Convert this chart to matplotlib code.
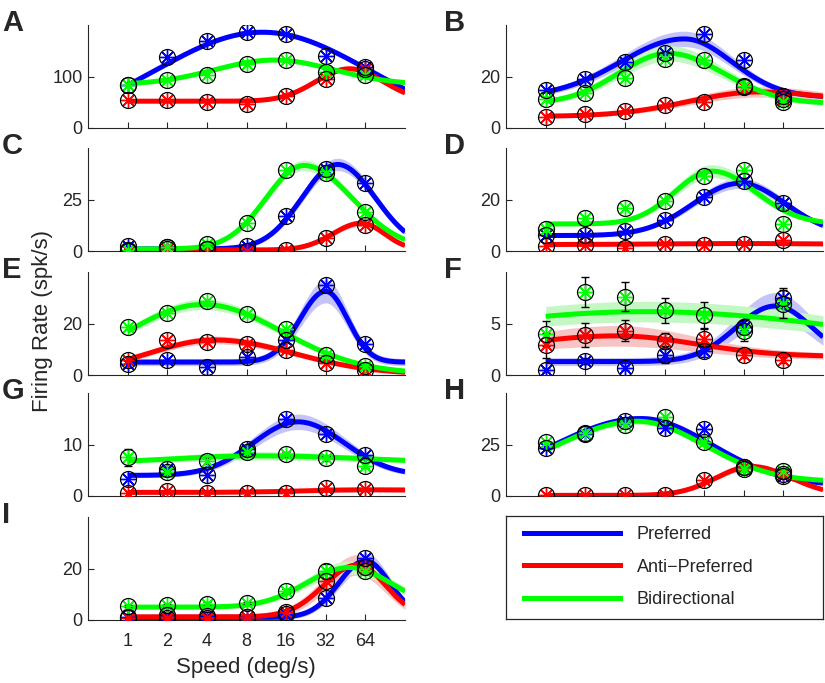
import numpy as np
import matplotlib
matplotlib.use('Agg')
import matplotlib.pyplot as plt
from matplotlib.lines import Line2D

plt.rcParams['font.family'] = ['Liberation Sans', 'DejaVu Sans']

# ---------------- data ----------------
speeds = [1, 2, 4, 8, 16, 32, 64]
speed_labels = ['1', '2', '4', '8', '16', '32', '64']
panel_letters = ['A', 'B', 'C', 'D', 'E', 'F', 'G', 'H', 'I']
series_names = ['Preferred', 'Anti\u2212Preferred', 'Bidirectional']
y_tops = [200, 40, 50, 40, 40, 10, 20, 50, 40]
y_ticks = [100, 20, 25, 20, 20, 5, 10, 25, 20]

# measured firing rates (spk/s) per panel A..I at speeds 1..64
pref_rates = [
    [83, 138, 169, 186, 183, 139, 119],
    [14.6, 19.1, 25.5, 29.0, 36.5, 26.6, 12.4],
    [2.2, 1.9, 1.1, 2.4, 17.0, 39.6, 33.0],
    [6.1, 6.3, 7.6, 12.1, 20.9, 27.0, 18.7],
    [4.2, 5.7, 3.2, 7.0, 13.4, 35.0, 12.1],
    [0.48, 1.37, 0.7, 1.97, 2.29, 4.7, 7.5],
    [3.35, 5.3, 4.0, 9.2, 15.0, 12.1, 7.9],
    [23.4, 30.3, 36.3, 33.1, 32.6, 14.2, 9.7],
    [1.0, 1.9, 1.7, 1.3, 2.5, 8.7, 24.0],
]
anti_rates = [
    [54, 54, 51, 46, 63, 95, 115],
    [4.3, 5.5, 6.6, 9.0, 10.1, 15.9, 11.4],
    [0.0, 1.0, 0.8, 0.0, 0.6, 6.4, 12.6],
    [1.9, 2.5, 1.2, 2.8, 2.2, 2.8, 4.1],
    [5.7, 13.6, 12.7, 12.1, 9.8, 4.5, 1.9],
    [2.87, 3.9, 4.3, 3.28, 3.5, 1.97, 1.43],
    [0.65, 1.0, 0.65, 0.5, 0.65, 1.6, 1.3],
    [0.5, 0.5, 0.3, 0.3, 7.7, 14.2, 10.5],
    [0.6, 0.6, 0.6, 1.3, 3.2, 15.0, 20.4],
]
bidi_rates = [
    [83, 94, 103, 125, 133, 109, 103],
    [11.4, 13.5, 19.5, 26.8, 26.6, 16.3, 10.1],
    [0.3, 1.9, 3.5, 13.4, 39.3, 37.7, 19.1],
    [8.6, 12.8, 16.6, 19.6, 29.3, 31.5, 10.6],
    [18.5, 24.2, 28.9, 23.6, 17.8, 7.6, 3.4],
    [4.0, 8.06, 7.6, 6.27, 5.8, 4.3, 6.9],
    [7.5, 4.6, 6.8, 8.5, 8.1, 7.3, 5.9],
    [26.3, 30.6, 34.7, 38.2, 26.1, 12.9, 12.1],
    [5.4, 5.7, 6.4, 6.6, 11.1, 18.9, 19.1],
]

# visible error bars (panel F; G/I bidirectional at a few speeds)
pref_err = {5: [0.2, 0.3, 0.2, 0.8, 0.5, 0.6, 0.9]}
anti_err = {5: [1.2, 1.15, 1.0, 0.8, 0.95, 0.3, 0.3]}
bidi_err = {5: [1.2, 1.5, 1.4, 1.2, 1.25, 1.0, 1.4],
            6: [1.6, 0.5, 0.5, 0.5, 0.5, 0.5, 0.5],
            8: [0.5, 0.5, 0.5, 0.5, 0.8, 2.9, 1.0]}

# fitted tuning curves (log2-speed Gaussian): baseline, amplitude, peak (log2 deg/s), width left, width right
pref_fit = [
    [0, 186, 3.4, 2.68, 2.68],
    [12, 22.6, 3.5, 1.6, 1.2],
    [1, 41, 5.3, 0.9, 0.95],
    [6, 20.3, 4.9, 1.18, 1.16],
    [5, 27.5, 5.0, 0.65, 0.55],
    [1.3, 5.4, 5.8, 1.0, 0.94],
    [4, 10.4, 4.3, 1.13, 1.17],
    [5, 32.6, 2.4, 2.2, 1.8],
    [1, 22, 6.0, 0.67, 0.62],
]
anti_fit = [
    [52, 63, 5.6, 0.85, 0.85],
    [4.5, 9.5, 5.4, 1.8, 2.5],
    [0.5, 13, 5.9, 0.72, 0.58],
    [2.5, 0.4, 5.0, 2.0, 2.0],
    [0.3, 13.3, 2.2, 1.69, 2.0],
    [1.8, 2.0, 1.8, 2.55, 2.0],
    [0.7, 0.5, 6.0, 1.5, 3.0],
    [0.3, 14, 5.2, 0.9, 1.0],
    [1.2, 20.2, 5.8, 0.85, 0.71],
]
bidi_fit = [
    [84, 48, 3.7, 1.5, 1.5],
    [9.5, 19.5, 3.1, 1.25, 1.39],
    [1, 40.5, 4.45, 0.96, 1.22],
    [10.5, 20.5, 4.2, 0.94, 1.1],
    [0.5, 26.9, 1.9, 1.92, 2.0],
    [0, 6.15, 2.5, 6.4, 6.7],
    [6.3, 1.5, 3.3, 2.2, 2.8],
    [7, 29.3, 2.3, 2.0, 1.7],
    [5, 15.4, 5.6, 1.09, 1.04],
]
# bootstrap spread (spk/s) per panel
pref_band = [4, 3, 3, 2, 4.5, 1.3, 1.5, 1.5, 3]
anti_band = [5, 2, 1.5, 0.6, 1.5, 1.0, 0.4, 1.5, 4]
bidi_band = [4, 3, 2.5, 2.5, 2, 1.0, 0.8, 1.5, 2.5]

# ---------------- styling ----------------
W, H = 825, 683
colors = ['#0000ff', '#ff0000', '#00ff00']
light = ['#c4c4f7', '#f7c4c4', '#c4f7c4']
text_col = '#262626'

fig = plt.figure(figsize=(W / 100, H / 100), dpi=100)

col_left = [88, 506]
ax_w = 317
row_tops = [25, 148, 272, 393, 517]
ax_h = 103

def fit_curve(p, u):
    b, A, u0, sl, sr = p
    s = np.where(u < u0, sl, sr)
    g = np.exp(-(u - u0) ** 2 / (2 * s ** 2))
    return b + A * g, g

u_grid = np.linspace(0, 7, 300)
x_grid = 2.0 ** u_grid

all_rates = [pref_rates, anti_rates, bidi_rates]
all_fits = [pref_fit, anti_fit, bidi_fit]
all_bands = [pref_band, anti_band, bidi_band]
all_errs = [pref_err, anti_err, bidi_err]

for k in range(9):
    r, c = divmod(k, 2)
    left = col_left[c]
    top = row_tops[r]
    ax = fig.add_axes([left / W, 1 - (top + ax_h) / H, ax_w / W, ax_h / H])
    ax.set_xscale('log', base=2)
    ax.set_xlim(0.5, 128)
    ax.set_ylim(0, y_tops[k])
    for s in range(3):
        y, g = fit_curve(all_fits[s][k], u_grid)
        bw = all_bands[s][k] * (0.3 + 0.7 * g)
        ax.fill_between(x_grid, y - bw, y + bw, color=light[s], lw=0, zorder=1)
    for s in range(3):
        y, g = fit_curve(all_fits[s][k], u_grid)
        ax.plot(x_grid, y, color=colors[s], lw=3.6, solid_capstyle='butt', zorder=2)
    for s in range(3):
        vals = all_rates[s][k]
        if k in all_errs[s]:
            ax.errorbar(speeds, vals, yerr=all_errs[s][k], fmt='none', ecolor='black',
                        elinewidth=1.0, capsize=3, capthick=1.0, zorder=3)
        ax.plot(speeds, vals, ls='none', marker=(8, 2, 0), ms=10.5, mew=1.0,
                mec=colors[s], zorder=4)
        ax.plot(speeds, vals, ls='none', marker='o', ms=11.5, mew=0.9,
                mec='black', mfc='none', zorder=5)
    ax.set_xticks(speeds)
    ax.minorticks_off()
    if k == 8:
        ax.set_xticklabels(speed_labels)
    else:
        ax.set_xticklabels([])
    ax.set_yticks([0, y_ticks[k]])
    ax.set_yticklabels(['0', str(y_ticks[k])])
    ax.tick_params(direction='in', length=4, width=0.8, labelsize=13,
                   colors=text_col, pad=4)
    ax.tick_params(axis='x', pad=9)
    for sp in ['top', 'right']:
        ax.spines[sp].set_visible(False)
    for sp in ['left', 'bottom']:
        ax.spines[sp].set_linewidth(0.8)
        ax.spines[sp].set_color(text_col)
    lx = 2 if c == 0 else 444
    fig.text(lx / W, 1 - (top + 6) / H, panel_letters[k], fontsize=21,
             fontweight='bold', color=text_col, ha='left', va='baseline')

# legend box
lax = fig.add_axes([506 / W, 1 - 619 / H, 317 / W, 103 / H])
lax.set_xticks([])
lax.set_yticks([])
for sp in lax.spines.values():
    sp.set_linewidth(0.9)
    sp.set_color(text_col)
handles = [Line2D([0], [0], color=colors[s], lw=3.6) for s in range(3)]
leg = lax.legend(handles, series_names, loc='upper left', bbox_to_anchor=(0.057, 0.9),
                 frameon=False, fontsize=13, handlelength=5.3, handletextpad=0.95,
                 labelspacing=0.85, borderaxespad=0, borderpad=0)
for t in leg.get_texts():
    t.set_color(text_col)

fig.text(43 / W, 1 - 321 / H, 'Firing Rate (spk/s)', rotation=90, fontsize=16,
         color=text_col, ha='center', va='center')
fig.text(246 / W, 1 - 668 / H, 'Speed (deg/s)', fontsize=16,
         color=text_col, ha='center', va='center')

fig.savefig('out.png', dpi=100)
